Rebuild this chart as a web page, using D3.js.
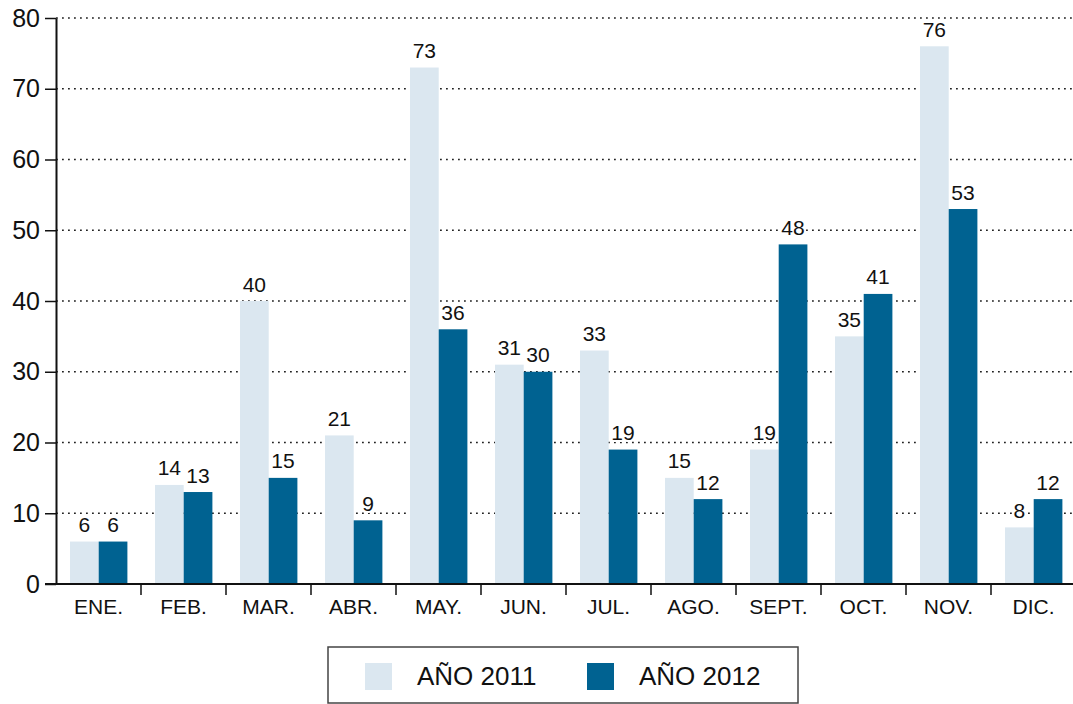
<!DOCTYPE html>
<html>
<head>
<meta charset="utf-8">
<script src="https://cdn.jsdelivr.net/npm/d3@7"></script>
<style>
  body { margin: 0; background: #fff; }
  svg { display: block; font-family: "Liberation Sans", Arial, sans-serif; }
</style>
</head>
<body>
<svg id="chart" width="1073" height="704"></svg>
<script>
'use strict';

var months = ['ENE.', 'FEB.', 'MAR.', 'ABR.', 'MAY.', 'JUN.', 'JUL.', 'AGO.', 'SEPT.', 'OCT.', 'NOV.', 'DIC.'];
var series = ['AÑO 2011', 'AÑO 2012'];
var values2011 = [6, 14, 40, 21, 73, 31, 33, 15, 19, 35, 76, 8];
var values2012 = [6, 13, 15, 9, 36, 30, 19, 12, 48, 41, 53, 12];
var yTicks = [0, 10, 20, 30, 40, 50, 60, 70, 80];
var colors = ['#dbe7f0', '#006291'];

(function () {
  var svg = d3.select('#chart');
  var plotLeft = 56, plotRight = 1076, plotTop = 18, plotBottom = 584;

  var x0 = d3.scaleBand().domain(months).range([plotLeft, plotRight]).padding(0);
  var x1 = d3.scaleBand().domain(series).range([14, x0.bandwidth() - 13.6]).padding(0);
  var y = d3.scaleLinear().domain([0, 80]).range([plotBottom, plotTop]);

  // dotted gridlines behind the bars
  svg.append('g')
    .selectAll('line')
    .data(yTicks.filter(function (d) { return d > 0; }))
    .enter().append('line')
    .attr('x1', plotLeft)
    .attr('x2', 1073)
    .attr('y1', function (d) { return y(d); })
    .attr('y2', function (d) { return y(d); })
    .attr('stroke', '#222')
    .attr('stroke-width', 1.3)
    .attr('stroke-dasharray', '1.8,4.2');

  var rows = months.map(function (m, i) {
    return { month: m, vals: [values2011[i], values2012[i]] };
  });
  function pairs(d) {
    return d.vals.map(function (v, k) { return { s: series[k], v: v, k: k }; });
  }

  var groups = svg.append('g')
    .selectAll('g')
    .data(rows)
    .enter().append('g')
    .attr('transform', function (d) { return 'translate(' + x0(d.month) + ',0)'; });

  groups.selectAll('rect')
    .data(pairs)
    .enter().append('rect')
    .attr('x', function (d) { return x1(d.s); })
    .attr('width', x1.bandwidth())
    .attr('y', function (d) { return y(d.v); })
    .attr('height', function (d) { return y(0) - y(d.v); })
    .attr('fill', function (d) { return colors[d.k]; });

  groups.selectAll('text')
    .data(pairs)
    .enter().append('text')
    .attr('x', function (d) { return x1(d.s) + x1.bandwidth() / 2; })
    .attr('y', function (d) { return y(d.v) - 9.5; })
    .attr('text-anchor', 'middle')
    .attr('font-size', 21)
    .attr('fill', '#111')
    .attr('stroke', '#fff')
    .attr('stroke-width', 4)
    .attr('paint-order', 'stroke')
    .text(function (d) { return d.v; });

  // y axis
  var yAxis = svg.append('g')
    .attr('transform', 'translate(' + plotLeft + ',0)')
    .call(d3.axisLeft(y).tickValues(yTicks).tickSize(11).tickSizeOuter(0).tickPadding(5));
  yAxis.select('.domain').attr('stroke', '#111').attr('stroke-width', 2);
  yAxis.selectAll('.tick line').attr('stroke', '#111').attr('stroke-width', 1.5);
  yAxis.selectAll('.tick text')
    .attr('font-size', 25)
    .attr('font-family', '"Liberation Sans", Arial, sans-serif')
    .attr('fill', '#111');

  // x axis baseline, boundary ticks and month labels
  svg.append('line')
    .attr('x1', plotLeft - 11).attr('x2', 1073)
    .attr('y1', y(0)).attr('y2', y(0))
    .attr('stroke', '#111').attr('stroke-width', 2);

  svg.append('g')
    .selectAll('line')
    .data(months.slice(1))
    .enter().append('line')
    .attr('x1', function (d) { return x0(d); })
    .attr('x2', function (d) { return x0(d); })
    .attr('y1', y(0))
    .attr('y2', y(0) + 11)
    .attr('stroke', '#111')
    .attr('stroke-width', 1.5);

  svg.append('g')
    .selectAll('text')
    .data(months)
    .enter().append('text')
    .attr('x', function (d) { return x0(d) + x0.bandwidth() / 2; })
    .attr('y', 614)
    .attr('text-anchor', 'middle')
    .attr('font-size', 21)
    .attr('fill', '#111')
    .text(function (d) { return d; });

  // legend
  var legend = svg.append('g');
  legend.append('rect')
    .attr('x', 328).attr('y', 647)
    .attr('width', 470).attr('height', 56)
    .attr('fill', '#fff')
    .attr('stroke', '#444')
    .attr('stroke-width', 1.5);

  var legendX = [365, 587];
  series.forEach(function (s, k) {
    legend.append('rect')
      .attr('x', legendX[k]).attr('y', 663)
      .attr('width', 27).attr('height', 27)
      .attr('fill', colors[k]);
    legend.append('text')
      .attr('x', legendX[k] + 52).attr('y', 685)
      .attr('font-size', 26)
      .attr('fill', '#111')
      .text(s);
  });
})();
</script>
</body>
</html>
